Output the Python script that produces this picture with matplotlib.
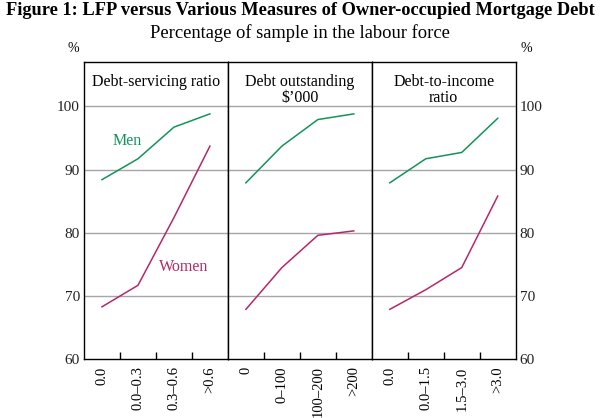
import matplotlib.pyplot as plt

plt.rcParams['font.family'] = ['Liberation Serif', 'DejaVu Serif']

panel_titles = ['Debt-servicing ratio', 'Debt outstanding\n\\$\u2019000', 'Debt-to-income\nratio']
categories = [
    ['0.0', '0.0\u20130.3', '0.3\u20130.6', '>0.6'],
    ['0', '0\u2013100', '100\u2013200', '>200'],
    ['0.0', '0.0\u20131.5', '1.5\u20133.0', '>3.0'],
]
men = [
    [88.4, 91.7, 96.7, 98.8],
    [87.9, 93.7, 97.9, 98.8],
    [87.9, 91.7, 92.7, 98.1],
]
women = [
    [68.3, 71.7, 82.4, 93.7],
    [67.9, 74.5, 79.6, 80.3],
    [67.9, 71.0, 74.5, 85.8],
]

green = '#14935a'
red = '#b3296b'

fig, axes = plt.subplots(1, 3, sharey=True, figsize=(6, 4.18), dpi=100)
fig.subplots_adjust(left=0.14, right=0.8595, bottom=0.1404, top=0.8517, wspace=0)

for i, ax in enumerate(axes):
    x = range(len(categories[i]))
    ax.plot(x, men[i], color=green, lw=1.1)
    ax.plot(x, women[i], color=red, lw=1.1)
    ax.set_xlim(-0.5, 3.5)
    ax.set_ylim(60, 107)
    ax.set_yticks([60, 70, 80, 90, 100])
    for yv in [70, 80, 90, 100]:
        ax.axhline(yv, color='#a6a6a6', lw=1, zorder=0)
    ax.set_xticks([0.5, 1.5, 2.5], minor=False)
    ax.set_xticklabels([])
    ax.tick_params(axis='x', direction='in', length=5, width=1, color='black')
    ax.set_xticks(list(x), minor=True)
    ax.set_xticklabels(categories[i], minor=True, rotation=90, va='top', fontsize=10.5)
    ax.tick_params(axis='x', which='minor', length=0, pad=5)
    ax.tick_params(axis='y', length=0, labelsize=11, pad=3, labelcolor='#222222')
    for s in ax.spines.values():
        s.set_linewidth(1)
        s.set_color('black')
    ax.text(0.5, 0.96, panel_titles[i], transform=ax.transAxes, ha='center', va='top',
            fontsize=11.5, linespacing=1.05)

axes[2].tick_params(axis='y', labelright=True, labelleft=False)
axes[1].tick_params(axis='y', labelleft=False)

axes[0].text(0.7, 94.5, 'Men', color=green, fontsize=11.5, ha='center', va='center')
axes[0].text(2.27, 74.6, 'Women', color=red, fontsize=11.5, ha='center', va='center')

fig.text(0.122, 0.885, '%', fontsize=10, ha='center', va='center')
fig.text(0.878, 0.885, '%', fontsize=10, ha='center', va='center')

fig.text(0.5, 0.974, 'Figure 1: LFP versus Various Measures of Owner-occupied Mortgage Debt',
         fontsize=13.2, fontweight='bold', ha='center', va='center')
fig.text(0.5, 0.922, 'Percentage of sample in the labour force', fontsize=13.3,
         ha='center', va='center')

fig.savefig('out.png', dpi=100)
